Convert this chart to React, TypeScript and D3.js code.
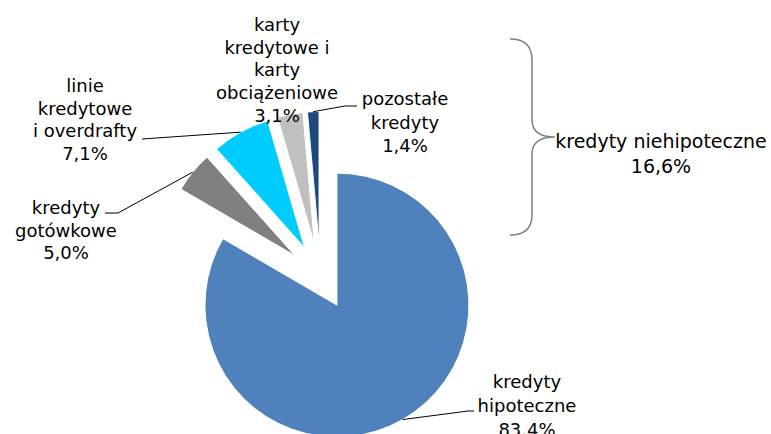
import React from "react";
import * as d3 from "d3";

const categories = [
  "kredyty hipoteczne",
  "kredyty gotówkowe",
  "linie kredytowe i overdrafty",
  "karty kredytowe i karty obciążeniowe",
  "pozostałe kredyty",
];
const values = [83.4, 5.0, 7.1, 3.1, 1.4];
const labelLines: string[][] = [
  ["kredyty", "hipoteczne"],
  ["kredyty", "gotówkowe"],
  ["linie", "kredytowe", "i overdrafty"],
  ["karty", "kredytowe i", "karty", "obciążeniowe"],
  ["pozostałe", "kredyty"],
];
const colors = ["#4f81bd", "#808080", "#00ccff", "#c0c0c0", "#1f497d"];
const groupLabel = "kredyty niehipoteczne";

// layout
const W = 771;
const H = 434;
const R = 132;
const EXPLODE = 33;
const CX = 320.5;
const CY = 276.5;
const FONT = "'DejaVu Sans', Verdana, sans-serif";

const labelLayout = [
  { x: 527, y: 388, dy: 24, elbow: [468, 411], end: [474, 411] },
  { x: 66, y: 214, dy: 22.5, elbow: [118, 213], end: [105, 213] },
  { x: 85, y: 92, dy: 22.7, elbow: [142, 139], end: [142, 139] },
  { x: 277, y: 31, dy: 22.7, elbow: null, end: null },
  { x: 405, y: 105, dy: 23.5, elbow: [345, 106], end: [357, 106] },
];

const locale = d3.formatLocale({
  decimal: ",",
  thousands: " ",
  grouping: [3],
  currency: ["", " zł"],
});
const fmt = (v: number) => locale.format(".1f")(v) + "%";

export default function App() {
  const pie = d3
    .pie<number>()
    .sort(null)
    .value((d) => d)
    .startAngle(0)
    .endAngle(2 * Math.PI);
  const arcs = pie(values);
  const arc = d3.arc<d3.PieArcDatum<number>>().innerRadius(0).outerRadius(R);

  const groupTotal = d3.sum(values.slice(1));

  return (
    <div style={{ position: "absolute", left: 0, top: 0 }}>
      <svg width={W} height={H} style={{ display: "block", background: "#fff" }}>
        <g>
          {arcs.map((a, i) => {
            const mid = (a.startAngle + a.endAngle) / 2;
            const ox = CX + EXPLODE * Math.sin(mid);
            const oy = CY - EXPLODE * Math.cos(mid);
            return (
              <path
                key={categories[i]}
                d={arc(a) || ""}
                transform={`translate(${ox},${oy})`}
                fill={colors[i]}
                stroke="#fff"
                strokeWidth={1}
              />
            );
          })}
        </g>
        <g fill="none" stroke="#000" strokeWidth={1}>
          {arcs.map((a, i) => {
            const L = labelLayout[i];
            if (!L.elbow || !L.end) return null;
            const mid = (a.startAngle + a.endAngle) / 2;
            const ox = CX + EXPLODE * Math.sin(mid);
            const oy = CY - EXPLODE * Math.cos(mid);
            const px = ox + R * Math.sin(mid);
            const py = oy - R * Math.cos(mid);
            return (
              <path
                key={"l" + i}
                d={`M${px},${py}L${L.elbow[0]},${L.elbow[1]}L${L.end[0]},${L.end[1]}`}
              />
            );
          })}
        </g>
        <g fontFamily={FONT} fontSize={18} fill="#000" textAnchor="middle">
          {arcs.map((a, i) => {
            const L = labelLayout[i];
            const lines = [...labelLines[i], fmt(values[i])];
            return (
              <text key={"t" + i} x={L.x} y={L.y}>
                {lines.map((ln, j) => (
                  <tspan key={j} x={L.x} y={L.y + j * L.dy}>
                    {ln}
                  </tspan>
                ))}
              </text>
            );
          })}
        </g>
        <path
          d="M510,39 C525,39 532,46 532,60 L532,120 C532,131 540,137 555,137 C540,137 532,143 532,154 L532,215 C532,228 525,235 510,235"
          fill="none"
          stroke="#808080"
          strokeWidth={1.5}
        />
        <g fontFamily={FONT} fontSize={19} fill="#000" textAnchor="middle">
          <text x={661} y={148}>{groupLabel}</text>
          <text x={661} y={173}>{fmt(groupTotal)}</text>
        </g>
      </svg>
    </div>
  );
}
